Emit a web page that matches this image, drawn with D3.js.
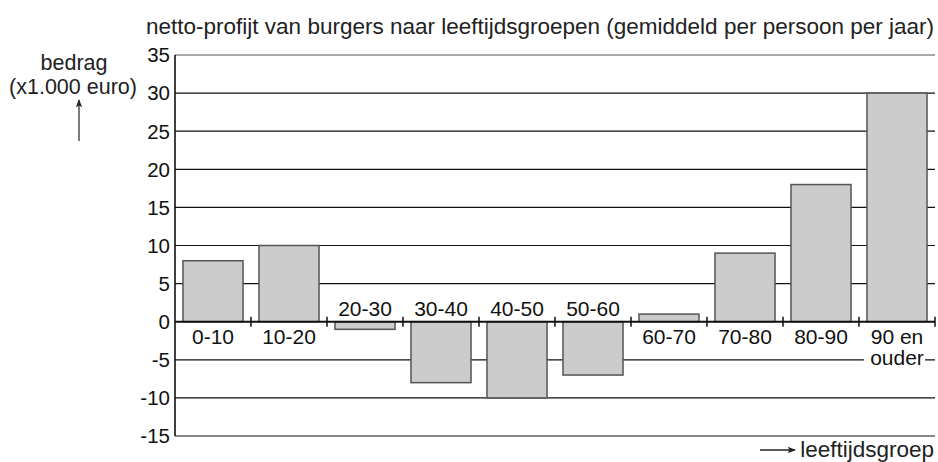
<!DOCTYPE html>
<html>
<head>
<meta charset="utf-8">
<script src="https://cdn.jsdelivr.net/npm/d3@7"></script>
<style>
  body { margin: 0; background: #fff; }
  svg { display: block; font-family: "Liberation Sans", Arial, sans-serif; }
</style>
</head>
<body>
<svg id="chart" width="938" height="462"></svg>
<script>
// age groups and their net profit (x1.000 euro per person per year)
const groups = ['0-10', '10-20', '20-30', '30-40', '40-50', '50-60', '60-70', '70-80', '80-90', '90 en ouder'];
const values = [8, 10, -1, -8, -10, -7, 1, 9, 18, 30];
const yTicks = [-15, -10, -5, 0, 5, 10, 15, 20, 25, 30, 35];

const M = { left: 175, right: 935, top: 55, bottom: 436 };

const svg = d3.select('#chart');

const x = d3.scaleBand()
  .domain(groups)
  .range([M.left, M.right])
  .paddingInner(0.21)
  .paddingOuter(0.105);

const y = d3.scaleLinear()
  .domain([-15, 35])
  .range([M.bottom, M.top]);

// title
svg.append('text')
  .attr('x', 934)
  .attr('y', 34)
  .attr('text-anchor', 'end')
  .attr('font-size', '22.5px')
  .attr('fill', '#222')
  .text('netto-profijt van burgers naar leeftijdsgroepen (gemiddeld per persoon per jaar)');

// gridlines
svg.append('g')
  .selectAll('line')
  .data(yTicks.filter(d => d !== 0))
  .join('line')
  .attr('x1', M.left)
  .attr('x2', M.right)
  .attr('y1', d => y(d))
  .attr('y2', d => y(d))
  .attr('stroke', d => d === 35 ? '#555' : '#111')
  .attr('stroke-width', 1.2);

// y tick labels
svg.append('g')
  .selectAll('text')
  .data(yTicks)
  .join('text')
  .attr('x', 170)
  .attr('y', d => y(d))
  .attr('dy', '0.36em')
  .attr('text-anchor', 'end')
  .attr('font-size', '20.5px')
  .attr('fill', '#111')
  .text(d => d);

// bars
svg.append('g')
  .selectAll('rect')
  .data(groups)
  .join('rect')
  .attr('x', d => x(d))
  .attr('width', x.bandwidth())
  .attr('y', (d, i) => y(Math.max(0, values[i])))
  .attr('height', (d, i) => Math.abs(y(values[i]) - y(0)))
  .attr('fill', '#cccccc')
  .attr('stroke', '#555')
  .attr('stroke-width', 1.5);

// left axis line
svg.append('line')
  .attr('x1', M.left).attr('x2', M.left)
  .attr('y1', M.top).attr('y2', M.bottom)
  .attr('stroke', '#111').attr('stroke-width', 1.6);

// zero line with ticks at group boundaries
svg.append('line')
  .attr('x1', M.left).attr('x2', M.right)
  .attr('y1', y(0)).attr('y2', y(0))
  .attr('stroke', '#111').attr('stroke-width', 2);

const step = x.step();
svg.append('g')
  .selectAll('line')
  .data(groups)
  .join('line')
  .attr('x1', d => x(d) - x.paddingOuter() * step + step)
  .attr('x2', d => x(d) - x.paddingOuter() * step + step)
  .attr('y1', y(0) - 5)
  .attr('y2', y(0) + 5)
  .attr('stroke', '#111')
  .attr('stroke-width', 1.5);

// group labels: below zero for positive bars, above for negative
const labels = svg.append('g');
groups.forEach((g, i) => {
  const cx = x(g) + x.bandwidth() / 2;
  const lines = g === '90 en ouder' ? ['90 en', 'ouder'] : [g];
  const above = values[i] < 0;
  lines.forEach((t, j) => {
    const ty = above ? y(0) - 6 : y(0) + 22 + j * 21;
    if (j > 0) {
      labels.append('rect')
        .attr('x', cx - 33).attr('y', ty - 17)
        .attr('width', 61).attr('height', 22)
        .attr('fill', '#fff');
    }
    labels.append('text')
      .attr('x', cx)
      .attr('y', ty)
      .attr('text-anchor', 'middle')
      .attr('font-size', '21px')
      .attr('fill', '#111')
      .text(t);
  });
});

// y axis caption
svg.append('text')
  .attr('x', 74).attr('y', 70)
  .attr('text-anchor', 'middle')
  .attr('font-size', '21.5px')
  .attr('fill', '#222')
  .text('bedrag');
svg.append('text')
  .attr('x', 73).attr('y', 94)
  .attr('text-anchor', 'middle')
  .attr('font-size', '21.5px')
  .attr('fill', '#222')
  .text('(x1.000 euro)');

const defs = svg.append('defs');
defs.append('marker')
  .attr('id', 'arrow')
  .attr('viewBox', '0 0 10 10')
  .attr('refX', 9).attr('refY', 5)
  .attr('markerWidth', 10).attr('markerHeight', 8)
  .attr('markerUnits', 'userSpaceOnUse')
  .attr('orient', 'auto')
  .append('path')
  .attr('d', 'M0,1 L10,5 L0,9 L2,5 Z')
  .attr('fill', '#222');

svg.append('line')
  .attr('x1', 79).attr('x2', 79)
  .attr('y1', 141).attr('y2', 100)
  .attr('stroke', '#333').attr('stroke-width', 1.3)
  .attr('marker-end', 'url(#arrow)');

// x axis caption
svg.append('line')
  .attr('x1', 760).attr('x2', 795)
  .attr('y1', 450).attr('y2', 450)
  .attr('stroke', '#222').attr('stroke-width', 1.3)
  .attr('marker-end', 'url(#arrow)');
svg.append('text')
  .attr('x', 934)
  .attr('y', 457)
  .attr('text-anchor', 'end')
  .attr('font-size', '22.5px')
  .attr('fill', '#222')
  .text('leeftijdsgroep');
</script>
</body>
</html>
